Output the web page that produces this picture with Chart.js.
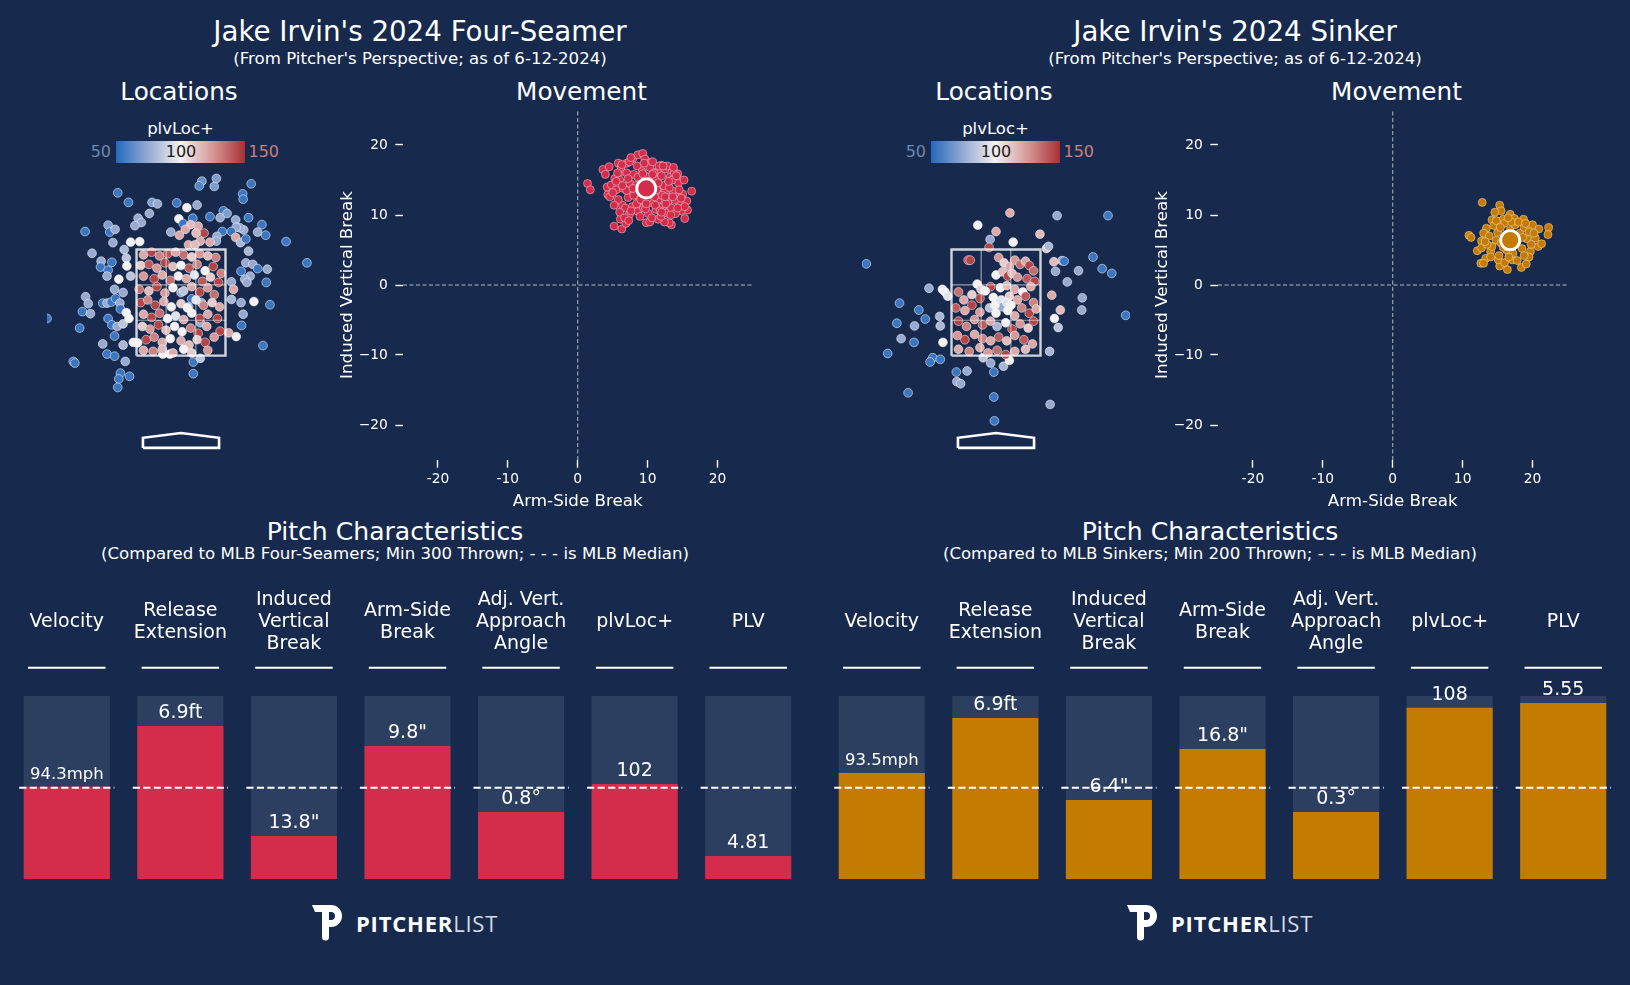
<!DOCTYPE html>
<html>
<head>
<meta charset="utf-8">
<script src="https://cdn.jsdelivr.net/npm/chart.js@4.4.1/dist/chart.umd.min.js"></script>
<style>
body { margin: 0; background: #172a4e; }
#page { position: relative; width: 1630px; height: 985px; overflow: hidden; color: #fff; font-family: 'DejaVu Sans', sans-serif; }
.t { position: absolute; white-space: nowrap; }
.box { position: absolute; }
.logo { position: absolute; display: flex; align-items: center; }
.logo span { font-family: 'Open Sans', sans-serif; font-size: 22px; letter-spacing: 0.8px; line-height: 22px; }
</style>
</head>
<body>
<div id="page"></div>
<script>
const FONT = "'DejaVu Sans', sans-serif";

// ---------- data ----------
const metricHeads = [['Velocity'], ['Release', 'Extension'], ['Induced', 'Vertical', 'Break'], ['Arm-Side', 'Break'],
  ['Adj. Vert.', 'Approach', 'Angle'], ['plvLoc+'], ['PLV']];
const pctMax = [100, 100, 100, 100, 100, 100, 100];
const mlbMedian = [50, 50, 50, 50, 50, 50, 50];
const ffPct = [50.5, 83.6, 23.6, 72.7, 36.7, 52.0, 12.7];
const siPct = [58.0, 88.0, 43.3, 71.1, 36.7, 93.6, 96.2];
const ffText = ['94.3mph', '6.9ft', '13.8"', '9.8"', '0.8°', '102', '4.81'];
const siText = ['93.5mph', '6.9ft', '6.4"', '16.8"', '0.3°', '108', '5.55'];

const moveTicks = [-20, -10, 0, 10, 20];
const moveSpan = [-25, 25];
const ffMean = [9.8, 13.8];
const siMean = [16.8, 6.4];

const ffMove = [
  [1.4,14.5],[1.8,13.6],[3.6,16.5],[3.95,15.8],[4.5,16.9],[5.8,17.4],[7.0,17.4],[7.9,18.1],[8.6,18.6],[9.3,18.8],
  [9.6,18.0],[10.4,17.5],[11.95,17.1],[13.1,16.5],[14.3,15.9],[14.7,12.6],[16.3,13.4],[15.7,10.7],[15.3,9.5],[14.8,10.6],
  [13.4,8.6],[13.1,8.9],[12.4,9.0],[11.5,9.4],[9.8,8.9],[10.3,9.0],[5.2,8.4],[6.1,9.4],[6.3,8.0],[6.9,8.8],
  [7.4,10.1],[6.4,11.4],[4.3,12.9],[4.6,12.6],[4.2,14.0],[4.8,14.3],[5.3,15.2],[6.2,16.2],[5.5,13.6],
  [6.0,15.0],[6.5,13.8],[7.0,16.0],[7.2,12.5],[7.5,14.5],[7.8,11.2],[8.0,15.8],[8.2,13.2],[8.5,17.0],[8.6,10.5],
  [8.8,12.0],[9.0,14.8],[9.2,16.2],[9.4,11.0],[9.6,12.8],[9.9,15.5],[10.1,10.2],[10.3,16.8],[10.5,11.8],[10.6,14.2],
  [10.8,13.0],[11.0,15.2],[11.2,10.8],[11.4,16.2],[11.5,12.2],[11.7,14.0],[11.9,9.8],[12.0,15.6],[12.2,11.2],[12.4,13.2],
  [12.5,16.6],[12.7,10.3],[12.9,14.6],[13.0,12.0],[13.2,15.4],[13.4,11.0],[13.6,13.4],[13.8,16.0],[14.0,10.2],[14.2,12.6],
  [14.4,14.6],[14.6,11.6],[15.0,13.0],[15.2,15.0],[15.6,12.0],[5.5,14.8],[5.8,12.2],[6.2,16.8],[6.8,11.0],[7.0,13.5],
  [7.4,17.6],[7.6,10.6],[8.0,12.8],[8.3,14.2],[8.6,15.4],[8.9,9.8],[9.2,13.4],[9.5,17.4],[9.7,10.9],[10.0,12.4],
  [10.2,14.8],[10.6,9.6],[10.9,16.0],[11.1,11.4],[11.3,13.6],[11.6,17.0],[11.8,10.6],[12.1,12.8],[12.3,14.2],[12.6,11.6],
  [12.8,17.0],[13.1,13.9],[13.3,10.0],[13.5,15.0],[13.9,12.2],[14.1,15.6],[14.5,13.6],[14.8,12.4],[15.3,11.2],[6.4,14.2],
  [7.2,15.2],[7.9,13.8],[8.4,11.6],[9.0,12.2],[9.3,15.9],[9.8,11.6],[10.4,13.5],[10.7,15.8],[11.0,12.6],[11.5,14.6],
  [12.0,10.4],[12.5,12.6],[13.0,14.8],[13.6,12.6],[14.3,11.0],[5.0,13.2],[5.2,11.4],[6.0,10.4],[6.7,9.6],[7.3,9.2],
  [5.7,16.0],[6.3,17.2],[7.6,18.2],[10.7,17.6],[12.2,17.0],[13.7,16.8]
];
const siMove = [
  [12.8,11.8],[15.3,11.4],[15.5,10.6],[14.6,10.4],[16.8,10.1],[14.2,9.3],[15.8,9.4],[17.4,9.5],[18.7,9.4],[20.0,8.6],
  [22.3,8.2],[22.2,7.2],[20.9,8.0],[13.4,8.1],[13.0,7.4],[10.9,7.1],[11.2,6.8],[12.7,6.3],[12.1,4.9],[12.7,5.3],
  [13.3,3.8],[12.6,3.1],[13.0,3.1],[15.3,2.7],[16.4,2.2],[18.4,2.5],[19.1,3.0],[20.8,5.5],[21.3,5.9],[20.4,6.7],
  [19.7,4.8],[19.5,4.0],[17.1,3.6],[15.1,3.6],[14.0,4.8],[14.8,6.4],
  [14.5,8.5],[15.0,7.5],[15.5,6.0],[16.0,8.8],[16.3,5.0],[16.8,7.8],[17.2,4.5],[17.5,8.6],[17.8,6.2],[18.2,7.4],
  [18.5,5.2],[18.8,8.2],[19.2,6.6],[19.5,7.6],[15.2,4.2],[14.2,5.5],[13.8,7.0],[16.0,3.2],[17.0,9.0],[18.0,9.0],
  [18.8,4.2],[14.8,9.2],[16.5,9.6],[13.5,5.8],[19.8,5.8],[20.2,7.4],[17.8,3.5],[15.8,5.4],[16.6,4.0],[17.6,7.0],
  [18.6,6.8],[13.2,6.2],[14.0,4.0],[15.4,8.2],[19.0,8.8],[16.2,6.8]
];

// [plate x ft, plate z ft, plvLoc+]
const ffLoc = [
  [0.39,4.79,65],[0.66,4.84,70],[0.34,4.70,60],[0.62,4.69,70],[1.31,4.74,55],[-1.18,4.57,55],[1.15,4.55,55],[1.16,4.45,55],
  [-0.98,4.39,55],[-0.54,4.39,70],[-0.44,4.36,75],[-0.08,4.38,55],[0.30,4.34,75],[0.11,4.29,100],[0.79,4.23,55],[-0.59,4.18,75],
  [-0.80,4.09,75],[-0.74,4.01,75],[-0.86,3.95,75],[-0.04,4.08,100],[0.22,4.09,55],[0.54,4.12,55],[0.73,4.10,75],[0.86,4.18,70],
  [1.02,4.06,75],[1.26,4.10,55],[0.04,3.99,55],[0.18,3.97,115],[0.32,3.94,120],[0.43,3.81,145],[0.28,3.81,115],[0.08,3.88,120],
  [-0.19,3.83,75],[-0.03,3.77,120],[-1.36,3.96,70],[-1.33,3.83,55],[-1.23,3.88,75],[-1.79,3.84,55],[1.51,3.97,55],[1.43,3.83,75],
  [1.58,3.77,55],[1.17,3.87,75],[1.10,3.91,75],[1.03,3.92,75],[0.94,3.84,55],[0.77,3.84,55],[0.67,3.75,75],[1.96,3.65,55],
  [2.35,3.25,55],[1.02,3.73,120],[1.11,3.63,80],[1.21,3.70,55],[0.66,3.66,75],[0.54,3.64,120],[0.36,3.66,120],[0.14,3.59,120],
  [0.26,3.59,115],[-1.27,3.63,75],[-1.66,3.43,75],[-1.49,3.28,75],[-1.50,3.17,55],[-1.36,3.11,55],[-1.29,3.26,55],[-1.38,3.00,75],
  [-1.06,3.50,80],[-1.02,3.34,85],[-0.94,3.64,100],[-0.77,3.65,100],[-1.16,2.94,100],[-1.01,3.19,100],[-0.94,3.00,85],[1.26,3.47,80],
  [1.21,3.25,75],[1.34,3.22,75],[1.43,3.14,55],[1.61,3.13,75],[1.59,2.88,55],[1.29,3.00,75],[1.12,3.09,55],[1.19,2.94,75],
  [1.23,2.88,75],[0.94,2.89,75],[0.98,2.75,120],[0.94,2.56,80],[1.36,2.52,100],[1.66,2.46,55],[1.12,2.50,75],[1.16,2.28,75],
  [1.13,2.07,55],[1.53,1.69,55],[1.03,1.86,100],[0.89,1.93,120],[0.73,1.96,145],
  [-1.78,2.61,75],[-1.73,2.48,75],[-1.84,2.33,55],[-1.69,2.29,75],[-1.89,2.02,55],[-2.50,2.20,55],[-2.01,1.39,55],[-1.98,1.36,55],
  [-1.46,2.49,55],[-1.38,2.49,75],[-1.30,2.51,55],[-1.22,2.58,55],[-1.14,2.49,75],[-1.24,2.75,75],[-1.08,2.69,75],[-1.13,2.38,55],
  [-1.36,2.20,55],[-1.29,2.08,55],[-1.24,1.87,55],[-1.19,2.05,75],[-1.08,2.10,85],[-1.02,2.31,100],[-0.97,2.20,100],[-1.46,1.72,75],
  [-1.08,1.70,80],[-1.38,1.53,55],[-1.24,1.49,55],[-1.04,1.39,75],[-1.13,1.17,55],[-0.96,1.11,55],[-1.16,1.06,55],[-1.18,0.90,55],
  [-0.89,1.75,100],[-0.81,1.74,100],[0.23,1.38,55],[0.36,1.45,85],[0.23,1.16,55],[-0.34,1.53,100],[-0.21,1.53,100],
  [0.36,2.12,75],[0.20,2.57,55],[0.14,2.42,75],[0.00,2.69,75],[0.38,2.50,75],
  [-0.70,3.40,120],[-0.55,3.45,145],[-0.40,3.38,130],[-0.25,3.42,140],[-0.10,3.45,120],[0.05,3.40,135],[0.20,3.36,110],[0.35,3.42,125],
  [0.50,3.38,115],[0.65,3.35,130],[-0.75,3.20,110],[-0.60,3.22,140],[-0.45,3.15,125],[-0.30,3.25,145],[-0.15,3.18,115],[0.00,3.20,100],
  [0.15,3.15,140],[0.30,3.22,130],[0.45,3.10,100],[0.60,3.18,145],[0.75,3.05,130],[-0.70,3.00,125],[-0.50,2.95,145],[-0.35,3.02,120],
  [-0.20,2.92,135],[-0.05,3.00,100],[0.10,2.95,120],[0.25,3.02,95],[0.40,2.90,140],[0.55,2.98,110],[0.70,2.88,145],[-0.78,2.75,135],
  [-0.60,2.72,115],[-0.45,2.80,145],[-0.30,2.68,125],[-0.15,2.78,100],[0.05,2.72,85],[0.20,2.80,120],[0.35,2.70,145],[0.50,2.78,125],
  [0.62,2.65,135],[-0.75,2.50,145],[-0.62,2.55,130],[-0.48,2.45,145],[-0.32,2.52,120],[-0.18,2.42,100],[0.00,2.48,110],[0.12,2.40,100],
  [0.28,2.55,95],[0.42,2.45,130],[0.58,2.50,110],[0.72,2.42,120],[-0.70,2.28,120],[-0.55,2.22,145],[-0.40,2.30,135],[-0.25,2.20,100],
  [-0.10,2.25,95],[0.05,2.18,120],[0.20,2.30,100],[0.35,2.20,145],[0.50,2.28,120],[0.68,2.20,145],[-0.72,2.05,110],[-0.58,2.00,125],
  [-0.42,2.08,145],[-0.28,1.98,115],[-0.12,2.05,100],[0.02,1.95,100],[0.18,2.02,130],[0.32,1.92,145],[0.48,2.05,120],[-0.65,1.80,145],
  [-0.50,1.85,130],[-0.35,1.75,120],[-0.20,1.82,100],[0.00,1.78,120],[0.15,1.70,115],[0.30,1.80,110],[0.45,1.75,145],[0.62,1.85,125],
  [-0.70,1.60,120],[-0.52,1.58,130],[-0.35,1.62,115],[-0.15,1.55,120],[0.05,1.62,100],[0.20,1.55,110],[0.50,1.60,125]
];
const siLoc = [
  [0.26,4.19,120],[1.14,4.14,75],[2.09,4.14,55],[-0.34,3.96,100],[0.00,3.84,120],[0.82,3.79,115],[-0.11,3.69,75],[0.32,3.64,100],
  [-0.13,3.54,145],[0.94,3.52,110],[0.98,3.56,80],[-2.42,3.23,55],[1.81,3.36,55],[1.98,3.14,55],[2.16,3.05,55],[1.54,3.10,75],
  [1.33,2.89,75],[1.11,3.09,75],[1.23,3.29,75],[1.27,3.28,55],[1.08,3.27,115],[-1.25,2.77,75],[1.61,2.59,75],[1.60,2.36,75],
  [1.04,2.64,120],[1.20,2.36,115],[1.09,2.20,100],[1.16,2.03,85],[-1.80,2.49,55],[-1.44,2.36,55],[-1.32,2.19,55],[-1.85,2.11,55],
  [-1.52,2.06,75],[-1.77,1.82,75],[-1.53,1.75,55],[-2.02,1.54,55],[-1.18,1.46,55],[-1.23,1.38,55],[-1.04,1.43,55],[-1.05,2.24,80],
  [-1.04,2.06,80],[-0.99,1.75,100],[-1.00,2.75,100],[-0.95,2.70,100],[-0.90,2.62,95],[2.42,2.26,55],[-0.74,1.19,55],[-0.54,1.21,75],
  [-0.73,1.01,75],[-0.66,0.97,75],[-0.04,1.19,55],[-0.10,1.36,75],[0.14,1.30,80],[-0.24,1.46,85],[0.25,1.41,100],[1.00,1.58,80],
  [-1.64,0.80,55],[-0.04,0.72,55],[1.01,0.58,75],[-0.03,0.27,55],
  [-0.52,3.30,145],[-0.48,3.30,145],[0.05,3.35,125],[0.15,3.25,110],[0.25,3.18,120],[0.35,3.30,125],[0.45,3.22,135],[0.55,3.28,120],
  [0.62,3.20,145],[0.70,3.10,135],[0.00,3.02,100],[0.12,3.08,115],[0.22,3.00,145],[0.30,3.05,115],[0.40,2.98,125],[0.58,2.95,140],
  [0.72,2.90,145],[-0.35,2.85,100],[-0.28,2.75,110],[-0.10,2.80,145],[0.08,2.78,100],[0.20,2.82,115],[0.35,2.75,120],[0.50,2.70,100],
  [0.65,2.80,120],[-0.70,2.70,135],[-0.60,2.55,120],[-0.45,2.65,110],[-0.30,2.58,145],[-0.20,2.72,100],[-0.05,2.60,100],[0.10,2.55,95],
  [0.25,2.62,110],[0.40,2.55,120],[0.55,2.62,140],[0.70,2.50,130],[-0.75,2.40,140],[-0.58,2.35,120],[-0.45,2.45,145],[-0.30,2.32,125],
  [-0.12,2.40,85],[0.00,2.30,100],[0.12,2.42,75],[0.22,2.35,100],[0.35,2.25,120],[0.48,2.40,130],[0.62,2.30,145],[0.75,2.38,120],
  [-0.70,2.15,145],[-0.55,2.05,130],[-0.40,2.18,125],[-0.25,2.08,140],[-0.10,2.15,120],[0.02,2.05,80],[0.18,2.12,100],[0.30,2.00,145],
  [0.45,2.10,125],[0.60,2.02,110],[0.70,2.15,145],[-0.72,1.88,125],[-0.58,1.80,145],[-0.40,1.90,120],[-0.25,1.82,130],[-0.10,1.78,120],
  [0.05,1.85,140],[0.20,1.78,115],[0.35,1.88,125],[0.52,1.80,140],[0.68,1.72,120],[-0.70,1.62,120],[-0.50,1.58,130],[-0.30,1.65,120],
  [-0.15,1.55,125],[0.02,1.60,135],[0.18,1.52,145],[0.35,1.58,120],[0.55,1.62,115],[-0.02,2.45,100],[0.20,2.50,95],[0.28,2.45,100]
];

const zoneX = [-0.83, 0.83];
const zoneZ = [1.5, 3.5];
const plateX = [-0.71, 0.71, 0.71, 0, -0.71, -0.71];
const plateZ = [-0.24, -0.24, -0.05, 0.04, -0.05, -0.24];
const cbarTicks = [50, 100, 150];

// vlag-like palette
const vlagStops = [[0, [35, 105, 189]], [0.25, [150, 170, 210]], [0.5, [243, 241, 241]], [0.75, [214, 152, 152]], [1, [169, 48, 52]]];
function vlag(v) {
  const t = Math.max(0, Math.min(1, (v - cbarTicks[0]) / (cbarTicks[2] - cbarTicks[0])));
  for (let i = 1; i < vlagStops.length; i++) {
    const [t1, c1] = vlagStops[i];
    const [t0, c0] = vlagStops[i - 1];
    if (t <= t1) {
      const f = (t - t0) / (t1 - t0);
      return 'rgb(' + c0.map((c, k) => Math.round(c + (c1[k] - c) * f)).join(',') + ')';
    }
  }
  return 'rgb(169,48,52)';
}

const page = document.getElementById('page');

function T(str, x, y, size, align, color, weight) {
  const d = document.createElement('div');
  d.className = 't';
  d.textContent = str;
  d.style.fontSize = size + 'px';
  d.style.lineHeight = size + 'px';
  d.style.left = x + 'px';
  d.style.top = y + 'px';
  const tx = align === 'left' ? '0' : align === 'right' ? '-100%' : '-50%';
  d.style.transform = 'translate(' + tx + ',-50%)';
  if (color) d.style.color = color;
  if (weight) d.style.fontWeight = weight;
  page.appendChild(d);
  return d;
}

function box(x, y, w, h) {
  const d = document.createElement('div');
  d.className = 'box';
  d.style.left = x + 'px';
  d.style.top = y + 'px';
  d.style.width = w + 'px';
  d.style.height = h + 'px';
  const c = document.createElement('canvas');
  d.appendChild(c);
  page.appendChild(d);
  return c;
}

function seg(x1, y1, x2, y2, color, width) {
  return {
    data: [{x: x1, y: y1}, {x: x2, y: y2}], showLine: true, pointRadius: 0,
    borderColor: color, borderWidth: width, order: 1
  };
}

function makeLocations(dx, pts) {
  const zx = zoneX, zz = zoneZ;
  const w3 = (zx[1] - zx[0]) / 3, h3 = (zz[1] - zz[0]) / 3;
  const grid = 'rgba(255,255,255,0.55)';
  new Chart(box(47 + dx, 170, 268, 297), {
    type: 'scatter',
    data: {
      datasets: [
        {
          data: pts.map(p => ({x: p[0], y: p[1], v: p[2]})),
          backgroundColor: c => c.raw ? vlag(c.raw.v) : '#fff',
          borderColor: 'rgba(255,255,255,0.75)', borderWidth: 0.7, pointRadius: 4.4, order: 2
        },
        seg(zx[0] + w3, zz[0], zx[0] + w3, zz[1], grid, 1.2),
        seg(zx[0] + 2 * w3, zz[0], zx[0] + 2 * w3, zz[1], grid, 1.2),
        seg(zx[0], zz[0] + h3, zx[1], zz[0] + h3, grid, 1.2),
        seg(zx[0], zz[0] + 2 * h3, zx[1], zz[0] + 2 * h3, grid, 1.2),
        {
          data: [[zx[0], zz[0]], [zx[1], zz[0]], [zx[1], zz[1]], [zx[0], zz[1]], [zx[0], zz[0]]].map(p => ({x: p[0], y: p[1]})),
          showLine: true, pointRadius: 0, borderColor: 'rgba(255,255,255,0.8)', borderWidth: 2.4, order: 0
        },
        {
          data: plateX.map((x, i) => ({x: x, y: plateZ[i]})),
          showLine: true, pointRadius: 0, borderColor: '#ffffff', borderWidth: 2.6, order: 0
        }
      ]
    },
    options: {
      animation: false, responsive: true, maintainAspectRatio: false, events: [],
      layout: {padding: 0, autoPadding: false},
      plugins: {legend: {display: false}, tooltip: {enabled: false}},
      scales: {
        x: {type: 'linear', min: -2.5, max: 2.5, display: false},
        y: {type: 'linear', min: -0.6, max: 5.0, display: false}
      }
    }
  });
  // colour bar
  const cb = document.createElement('div');
  cb.style.cssText = 'position:absolute;left:' + (116 + dx) + 'px;top:141px;width:129px;height:22px;background:linear-gradient(to right,' +
    vlagStops.map(s => 'rgb(' + s[1].join(',') + ') ' + (s[0] * 100) + '%').join(',') + ');';
  page.appendChild(cb);
  T('plvLoc+', 180.5 + dx, 128.5, 16.5);
  T(String(cbarTicks[0]), 111 + dx, 152, 16, 'right', 'rgb(112,134,172)');
  T(String(cbarTicks[1]), 181 + dx, 152, 16, 'center', '#1b1b1b');
  T(String(cbarTicks[2]), 248.5 + dx, 152, 16, 'left', 'rgb(200,128,128)');
}

function makeMovement(dx, pts, mean, color, edge) {
  const tickFont = {family: FONT, size: 13.8};
  const titleFont = {family: FONT, size: 16.7};
  const zl = 'rgba(205,210,220,0.85)';
  const noPad = s => { s.paddingTop = 0; s.paddingBottom = 0; s.paddingLeft = 0; s.paddingRight = 0; };
  new Chart(box(338 + dx, 100, 420, 412), {
    type: 'scatter',
    data: {
      datasets: [
        {data: moveSpan.map(v => ({x: v, y: 0})), showLine: true, pointRadius: 0, borderColor: zl, borderWidth: 1, borderDash: [4, 2.5], order: 3},
        {data: moveSpan.map(v => ({x: 0, y: v})), showLine: true, pointRadius: 0, borderColor: zl, borderWidth: 1, borderDash: [4, 2.5], order: 3},
        {data: pts.map(p => ({x: p[0], y: p[1]})), backgroundColor: color, borderColor: edge, borderWidth: 0.7, pointRadius: 4, order: 2},
        {data: [{x: mean[0], y: mean[1]}], backgroundColor: color, borderColor: '#ffffff', borderWidth: 2.8, pointRadius: 9.5, order: 1}
      ]
    },
    options: {
      animation: false, responsive: true, maintainAspectRatio: false, events: [],
      layout: {padding: {top: 10, right: 5.5, left: 0, bottom: 0}, autoPadding: false},
      plugins: {legend: {display: false}, tooltip: {enabled: false}},
      scales: {
        x: {
          type: 'linear', min: moveSpan[0], max: moveSpan[1],
          afterBuildTicks: s => { s.ticks = moveTicks.map(v => ({value: v})); },
          afterFit: s => { s.height = 52; noPad(s); },
          border: {display: false},
          grid: {drawOnChartArea: false, drawTicks: true, tickLength: 7.7, tickColor: '#ffffff', tickWidth: 1.4},
          ticks: {color: '#ffffff', font: tickFont, padding: 3.5, maxRotation: 0, callback: v => String(v)},
          title: {display: true, text: 'Arm-Side Break', color: '#ffffff', font: titleFont, padding: 0}
        },
        y: {
          type: 'linear', min: moveSpan[0], max: moveSpan[1],
          afterBuildTicks: s => { s.ticks = moveTicks.map(v => ({value: v})); },
          afterFit: s => { s.width = 65; noPad(s); },
          border: {display: false},
          grid: {drawOnChartArea: false, drawTicks: true, tickLength: 7.7, tickColor: '#ffffff', tickWidth: 1.4},
          ticks: {color: '#ffffff', font: tickFont, padding: 7.4, callback: v => v < 0 ? '\u2212' + Math.abs(v) : String(v)},
          title: {display: true, text: 'Induced Vertical Break', color: '#ffffff', font: titleFont, padding: 0}
        }
      }
    }
  });
}

const barDeco = {
  id: 'barDeco',
  afterDatasetsDraw(chart, args, o) {
    const {ctx, chartArea, scales: {x, y}} = chart;
    const step = x.getPixelForValue(1) - x.getPixelForValue(0);
    ctx.save();
    ctx.textAlign = 'center';
    ctx.textBaseline = 'middle';
    ctx.fillStyle = '#ffffff';
    ctx.strokeStyle = '#ffffff';
    metricHeads.forEach((lines, i) => {
      const cx = x.getPixelForValue(i);
      // header
      ctx.font = '19px ' + FONT;
      const top = chartArea.top - 74 - (lines.length - 1) * 11;
      lines.forEach((ln, k) => ctx.fillText(ln, cx, top + k * 22));
      ctx.setLineDash([]);
      ctx.lineWidth = 2;
      ctx.beginPath();
      ctx.moveTo(cx - 0.341 * step, chartArea.top - 28.3);
      ctx.lineTo(cx + 0.341 * step, chartArea.top - 28.3);
      ctx.stroke();
      // MLB median
      const my = y.getPixelForValue(mlbMedian[i]);
      ctx.setLineDash([7.2, 3.3]);
      ctx.beginPath();
      ctx.moveTo(cx - 0.419 * step, my);
      ctx.lineTo(cx + 0.419 * step, my);
      ctx.stroke();
      // value label
      const by = y.getPixelForValue(o.values[i]);
      ctx.font = (i === 0 ? 16.5 : 19) + 'px ' + FONT;
      ctx.fillText(o.labels[i], cx, by - 12.5);
    });
    ctx.restore();
  }
};

function makeBars(dx, pct, labels, color) {
  new Chart(box(10 + dx, 590, 795, 300), {
    type: 'bar',
    data: {
      labels: metricHeads.map(h => h.join(' ')),
      datasets: [
        {data: pctMax, backgroundColor: '#2c3f61', grouped: false, order: 2, barPercentage: 0.758, categoryPercentage: 1},
        {data: pct, backgroundColor: color, grouped: false, order: 1, barPercentage: 0.758, categoryPercentage: 1}
      ]
    },
    options: {
      animation: false, responsive: true, maintainAspectRatio: false, events: [],
      layout: {padding: {top: 106, bottom: 10.7, left: 0, right: 0}, autoPadding: false},
      plugins: {legend: {display: false}, tooltip: {enabled: false}, barDeco: {values: pct, labels: labels}},
      scales: {
        x: {display: false},
        y: {display: false, min: 0, max: 100}
      }
    },
    plugins: [barDeco]
  });
}

function makeLogo(dx) {
  const d = document.createElement('div');
  d.className = 'logo';
  d.style.left = (312 + dx) + 'px';
  d.style.top = '905px';
  d.innerHTML = '<svg width="30" height="36" viewBox="0 0 30 36"><path fill="#ffffff" d="M0,0 H19 A11,11 0 0 1 19,22 H17 V15 H19 A4,4 0 0 0 19,7 H17 V32 A3.5,3.5 0 0 1 10,32 V7 H3 Z"/></svg>' +
    '<span style="margin-left:14px;font-weight:700;color:#ffffff;">PITCHER</span><span style="font-weight:400;color:#d4d9e2;">LIST</span>';
  page.appendChild(d);
}

const panels = [
  {dx: 0, name: 'Four-Seamer', cmp: '(Compared to MLB Four-Seamers; Min 300 Thrown; - - - is MLB Median)',
    color: '#d32d4b', edge: 'rgba(255,205,215,0.75)', loc: ffLoc, move: ffMove, mean: ffMean, pct: ffPct, text: ffText},
  {dx: 815, name: 'Sinker', cmp: '(Compared to MLB Sinkers; Min 200 Thrown; - - - is MLB Median)',
    color: '#c47b02', edge: 'rgba(255,225,180,0.75)', loc: siLoc, move: siMove, mean: siMean, pct: siPct, text: siText}
];

panels.forEach(p => {
  T("Jake Irvin's 2024 " + p.name, 420 + p.dx, 32, 27.7);
  T("(From Pitcher's Perspective; as of 6-12-2024)", 420 + p.dx, 59, 16.6);
  T('Locations', 179 + p.dx, 92, 24.7);
  T('Movement', 581.5 + p.dx, 92, 24.7);
  T('Pitch Characteristics', 395 + p.dx, 532, 25.1);
  T(p.cmp, 395 + p.dx, 554, 16.6);
  makeLocations(p.dx, p.loc);
  makeMovement(p.dx, p.move, p.mean, p.color, p.edge);
  makeBars(p.dx, p.pct, p.text, p.color);
  makeLogo(p.dx);
});
</script>
</body>
</html>
